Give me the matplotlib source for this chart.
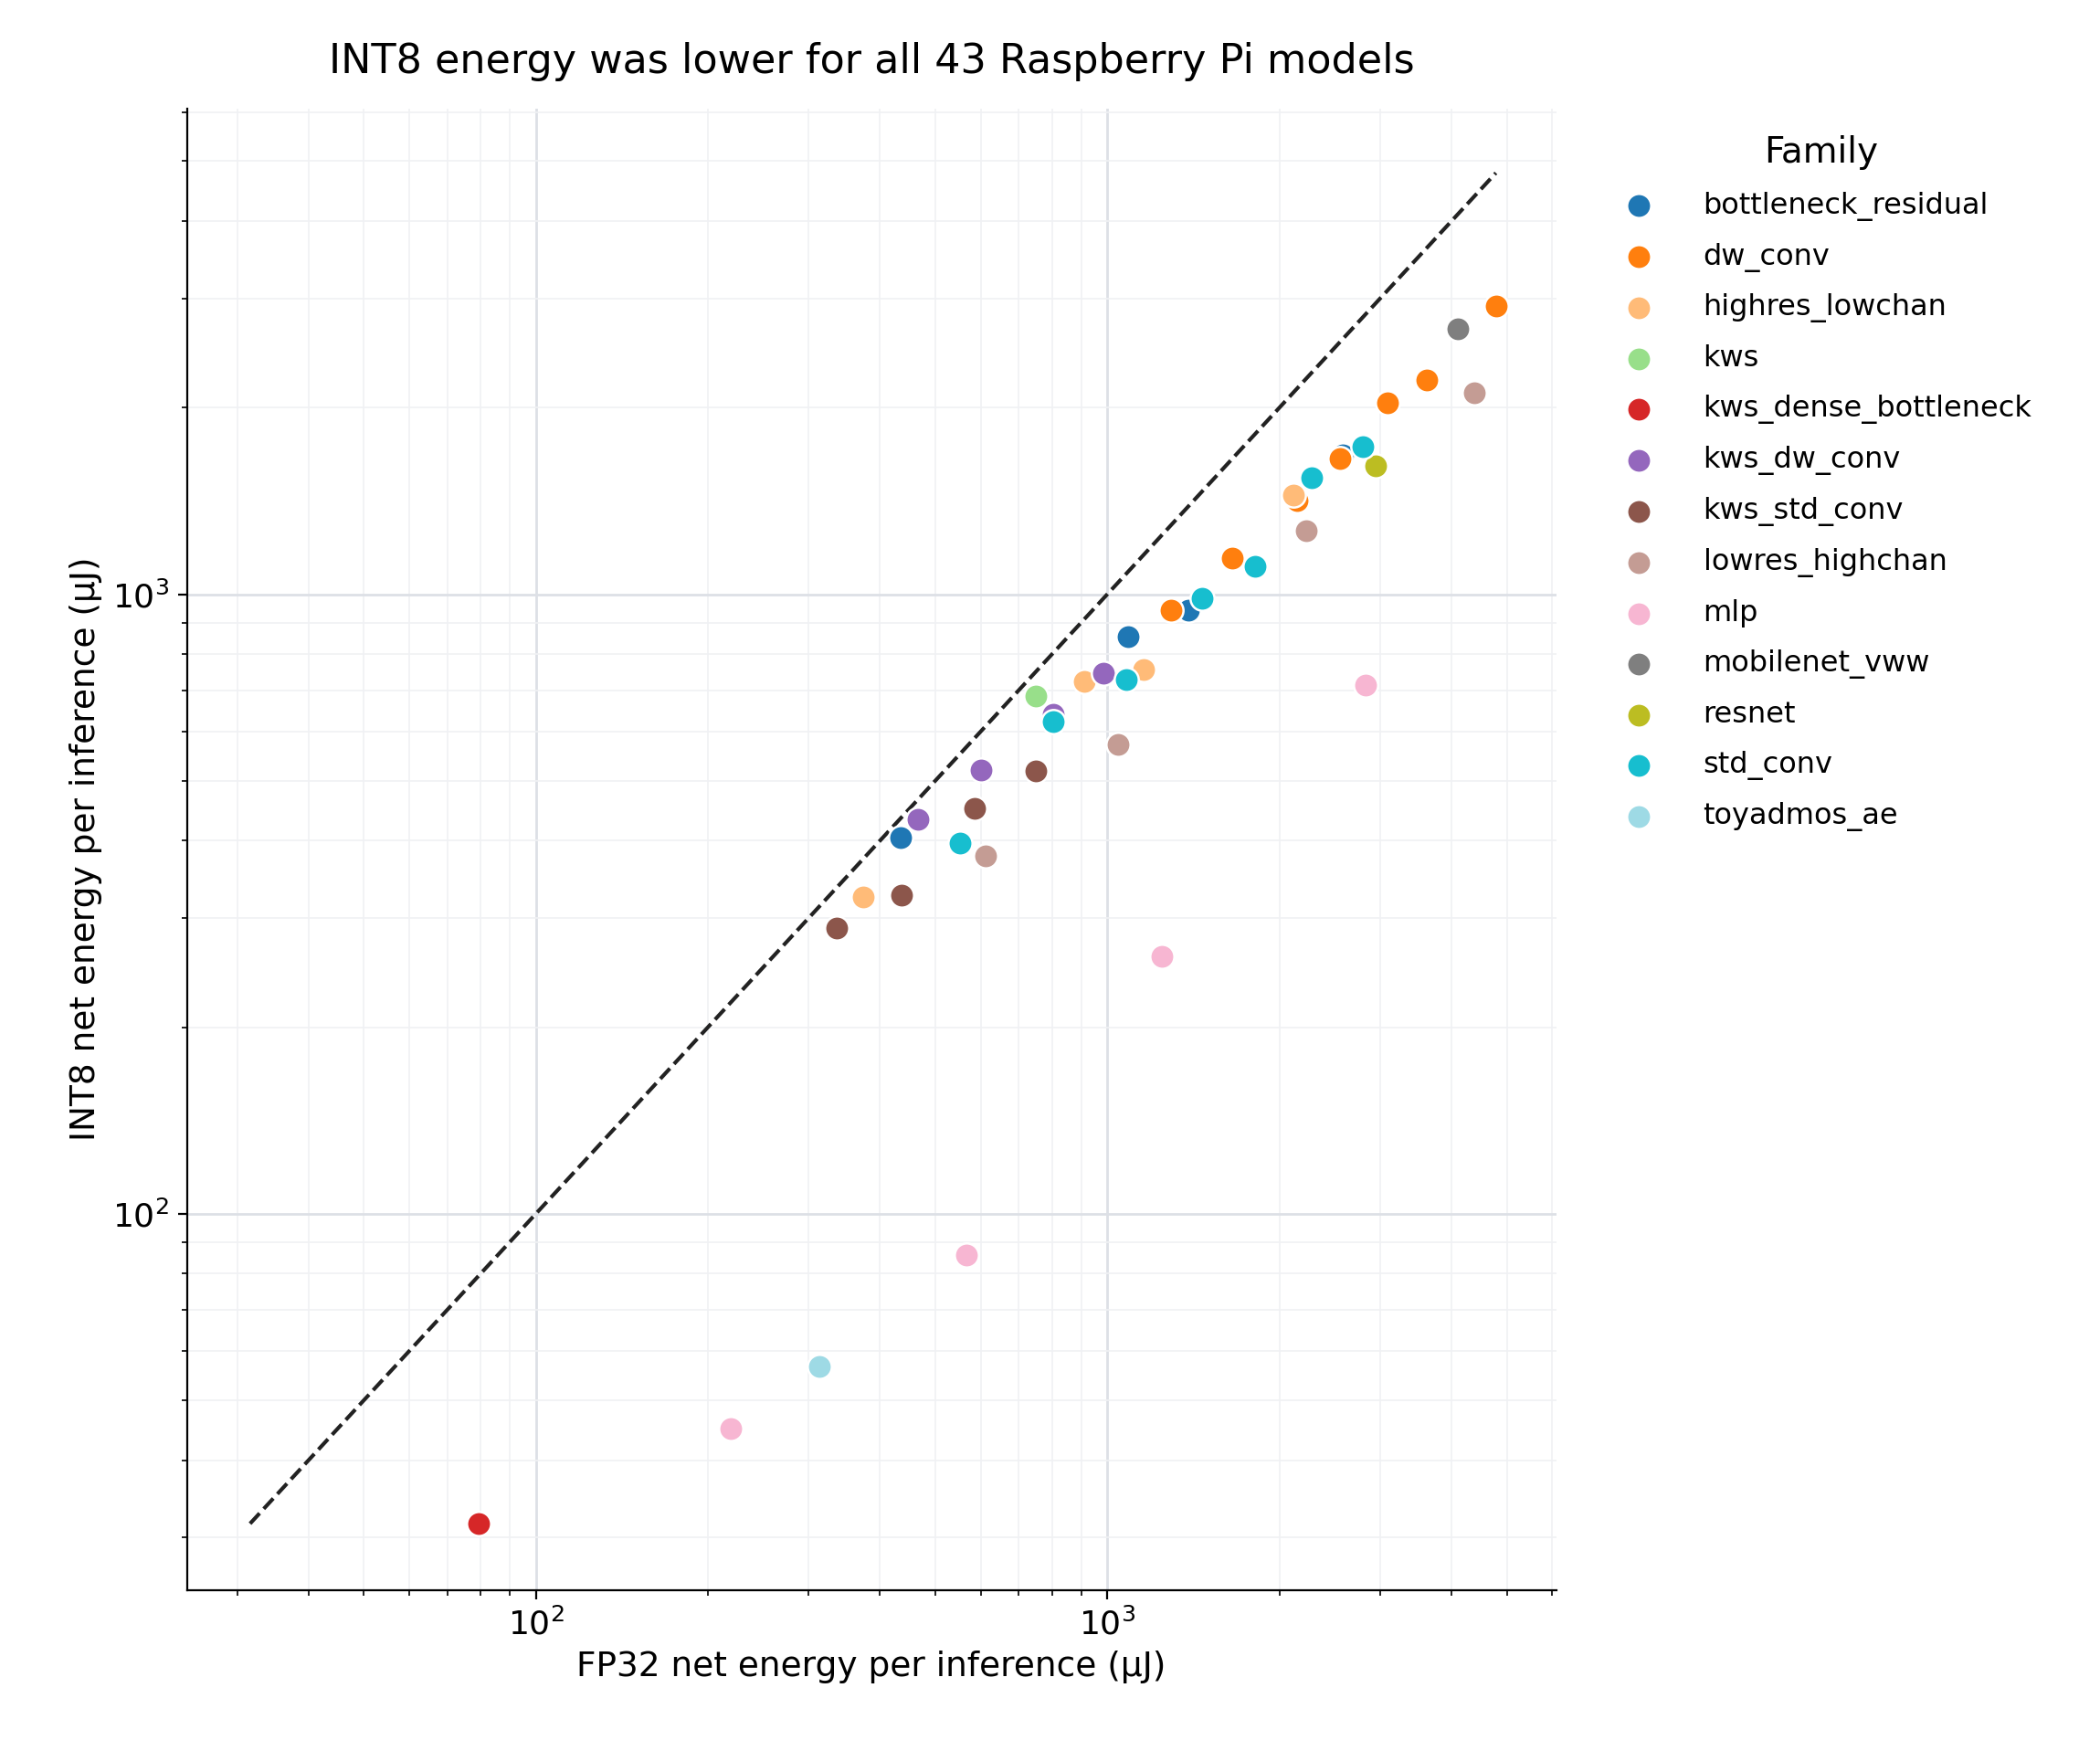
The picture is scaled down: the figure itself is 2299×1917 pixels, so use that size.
import matplotlib
matplotlib.use("Agg")
import matplotlib.pyplot as plt

# FP32 / INT8 net energy per inference (uJ), by model family
families = ["bottleneck_residual", "dw_conv", "highres_lowchan", "kws",
            "kws_dense_bottleneck", "kws_dw_conv", "kws_std_conv",
            "lowres_highchan", "mlp", "mobilenet_vww", "resnet", "std_conv",
            "toyadmos_ae"]
colors = ["#1f77b4", "#ff7f0e", "#ffbb78", "#98df8a", "#d62728", "#9467bd",
          "#8c564b", "#c49c94", "#f7b6d2", "#7f7f7f", "#bcbd22", "#17becf",
          "#9edae5"]
fp32 = {
    "bottleneck_residual": [434, 1086, 1387, 2585],
    "dw_conv": [1292, 1652, 2147, 2556, 3096, 3622, 4786],
    "highres_lowchan": [374, 912, 1159, 2113],
    "kws": [749],
    "kws_dense_bottleneck": [79.5],
    "kws_dw_conv": [466, 602, 804, 984],
    "kws_std_conv": [336, 436, 586, 749],
    "lowres_highchan": [612, 1045, 2230, 4387],
    "mlp": [219, 567, 1244, 2836],
    "mobilenet_vww": [4110],
    "resnet": [2946],
    "std_conv": [552, 804, 1080, 1465, 1813, 2279, 2805],
    "toyadmos_ae": [313],
}
int8 = {
    "bottleneck_residual": [404, 853, 942, 1679],
    "dw_conv": [942, 1144, 1418, 1655, 2040, 2220, 2920],
    "highres_lowchan": [324, 723, 757, 1445],
    "kws": [685],
    "kws_dense_bottleneck": [31.6],
    "kws_dw_conv": [433, 520, 639, 745],
    "kws_std_conv": [289, 327, 451, 518],
    "lowres_highchan": [378, 572, 1265, 2111],
    "mlp": [45, 85.7, 260, 713],
    "mobilenet_vww": [2683],
    "resnet": [1614],
    "std_conv": [396, 623, 727, 985, 1110, 1543, 1730],
    "toyadmos_ae": [56.6],
}
line_range = [31.6, 4786]

fig = plt.figure(figsize=(11.495, 9.585), dpi=200)
ax = fig.add_axes([0.089, 0.092, 0.652, 0.846])

ax.plot(line_range, line_range, "--", color="#222222", lw=1.5, zorder=2)
for fam, c in zip(families, colors):
    ax.scatter(fp32[fam], int8[fam], s=90, color=c, edgecolor="white",
               linewidth=0.9, label=fam, zorder=3)

ax.set_xscale("log")
ax.set_yscale("log")
ax.set_xlim(24.5, 6100)
ax.set_ylim(24.7, 6080)
ax.grid(True, which="major", color="#dde0e6", lw=1.0)
ax.grid(True, which="minor", color="#f0f1f4", lw=0.6)
ax.set_axisbelow(True)
for s in ["top", "right"]:
    ax.spines[s].set_visible(False)
ax.tick_params(labelsize=13)

ax.set_title("INT8 energy was lower for all 43 Raspberry Pi models", fontsize=16, pad=14)
ax.set_xlabel("FP32 net energy per inference (\u00b5J)", fontsize=13.5)
ax.set_ylabel("INT8 net energy per inference (\u00b5J)", fontsize=13.5)

leg = ax.legend(title="Family", loc="upper left", bbox_to_anchor=(1.02, 1.0),
                frameon=False, fontsize=11.5, title_fontsize=14,
                handletextpad=1.2, labelspacing=0.75)

fig.savefig("out.png", dpi=200)
